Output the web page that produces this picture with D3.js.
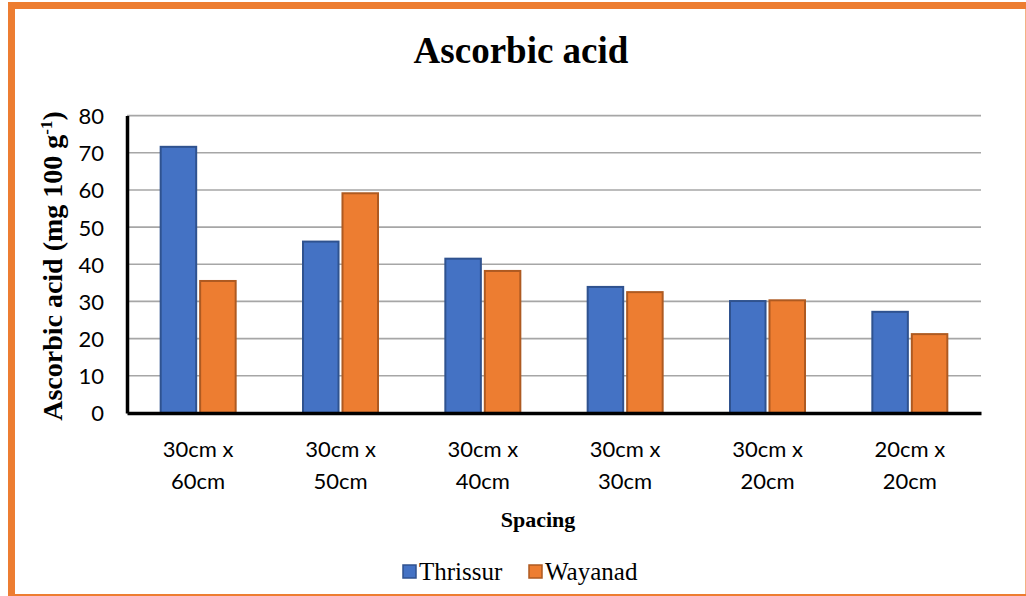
<!DOCTYPE html>
<html>
<head>
<meta charset="utf-8">
<script src="https://cdn.jsdelivr.net/npm/d3@7"></script>
<style>
  html, body { margin: 0; padding: 0; background: #fff; }
  svg { display: block; }
</style>
</head>
<body>
<svg id="chart" width="1026" height="596"></svg>
<script>
// Ascorbic acid content by plant spacing at two locations
const categories = [["30cm x", "60cm"], ["30cm x", "50cm"], ["30cm x", "40cm"],
                    ["30cm x", "30cm"], ["30cm x", "20cm"], ["20cm x", "20cm"]];
const seriesNames = ["Thrissur", "Wayanad"];
const thrissur = [71.6, 46.1, 41.5, 33.9, 30.1, 27.2];
const wayanad  = [35.5, 59.1, 38.2, 32.5, 30.3, 21.2];
const yTicks = [0, 10, 20, 30, 40, 50, 60, 70, 80];

const fills   = ["#4472C4", "#ED7D31"];
const strokes = ["#2F528F", "#AE5A21"];

const svg = d3.select("#chart");
const W = 1026, H = 596;
const serif = "'Liberation Serif', 'Times New Roman', serif";
const sans = "Lato, 'Open Sans', sans-serif";

// frame
svg.append("rect").attr("x", 8).attr("y", 2).attr("width", W - 8).attr("height", H - 2)
  .attr("fill", "#ED7D31");
svg.append("rect").attr("x", 15).attr("y", 9).attr("width", W - 16).attr("height", 585)
  .attr("fill", "#fff");
svg.append("line").attr("x1", 1025.5).attr("x2", 1025.5).attr("y1", 9).attr("y2", 594)
  .attr("stroke", "#F4B183").attr("stroke-width", 1);

const plot = { left: 127, right: 981, top: 115.6, bottom: 412.9 };

const x0 = d3.scaleBand().domain(d3.range(categories.length))
  .range([plot.left, plot.right]).paddingInner(0).paddingOuter(0);
const x1 = d3.scaleBand().domain(seriesNames)
  .range([0, 75]).paddingInner(0.1).paddingOuter(0);
const y = d3.scaleLinear().domain([0, 80]).range([plot.bottom, plot.top]);

// gridlines
svg.append("g").selectAll("line").data(yTicks.filter(t => t > 0)).join("line")
  .attr("x1", plot.left).attr("x2", plot.right)
  .attr("y1", d => y(d)).attr("y2", d => y(d))
  .attr("stroke", "#A6A6A6").attr("stroke-width", 1.6);

// bars
const rows = categories.map((c, i) => ({ i, values: [thrissur[i], wayanad[i]] }));
const groups = svg.append("g").selectAll("g").data(rows).join("g")
  .attr("transform", d => `translate(${x0(d.i) + (x0.bandwidth() - 75) / 2},0)`);
groups.selectAll("rect").data(d => d.values.map((v, k) => ({ v, k }))).join("rect")
  .attr("x", d => x1(seriesNames[d.k]))
  .attr("width", x1.bandwidth())
  .attr("y", d => y(d.v))
  .attr("height", d => y(0) - y(d.v))
  .attr("fill", d => fills[d.k])
  .attr("stroke", d => strokes[d.k])
  .attr("stroke-width", 2);

// axes
const yAxis = d3.axisLeft(y).tickValues(yTicks).tickSize(0).tickPadding(23);
const gy = svg.append("g").attr("transform", `translate(${plot.left},0)`).call(yAxis);
gy.select(".domain").attr("stroke", "#000").attr("stroke-width", 3.5);
gy.selectAll("text").attr("font-family", sans)
  .attr("font-size", 22).attr("fill", "#000").attr("dy", "0.36em");

const gx = svg.append("g").attr("transform", `translate(0,${plot.bottom})`)
  .call(d3.axisBottom(x0).tickSize(0).tickFormat(""));
gx.select(".domain").attr("stroke", "#000").attr("stroke-width", 3.5);

// category labels on two lines
const catLabels = svg.append("g").selectAll("text").data(categories).join("text")
  .attr("text-anchor", "middle")
  .attr("font-family", sans)
  .attr("font-size", 22).attr("fill", "#000");
catLabels.each(function (d, i) {
  const cx = x0(i) + x0.bandwidth() / 2;
  d3.select(this).selectAll("tspan").data(d).join("tspan")
    .attr("x", cx).attr("y", (t, j) => 457 + j * 32).text(t => t);
});

// titles
svg.append("text").attr("x", 521).attr("y", 63).attr("text-anchor", "middle")
  .attr("font-family", serif)
  .attr("font-weight", "bold").attr("font-size", 37).text("Ascorbic acid");

svg.append("text").attr("x", 538).attr("y", 527).attr("text-anchor", "middle")
  .attr("font-family", serif)
  .attr("font-weight", "bold").attr("font-size", 22).text("Spacing");

const yt = svg.append("text")
  .attr("transform", "translate(62,266) rotate(-90)")
  .attr("text-anchor", "middle")
  .attr("font-family", serif)
  .attr("font-weight", "bold").attr("font-size", 28);
yt.append("tspan").text("Ascorbic acid (mg 100 g");
yt.append("tspan").attr("font-size", 17).attr("dy", -10).text("-1");
yt.append("tspan").attr("dy", 10).text(")");

// legend
const legend = svg.append("g");
const legendX = [402, 528];
seriesNames.forEach((name, k) => {
  legend.append("rect").attr("x", legendX[k] + 1).attr("y", 565)
    .attr("width", 13).attr("height", 13)
    .attr("fill", fills[k]).attr("stroke", strokes[k]).attr("stroke-width", 1.5);
  legend.append("text").attr("x", legendX[k] + 17).attr("y", 580)
    .attr("font-family", serif)
    .attr("font-size", 25).attr("fill", "#000").text(name);
});
</script>
</body>
</html>
